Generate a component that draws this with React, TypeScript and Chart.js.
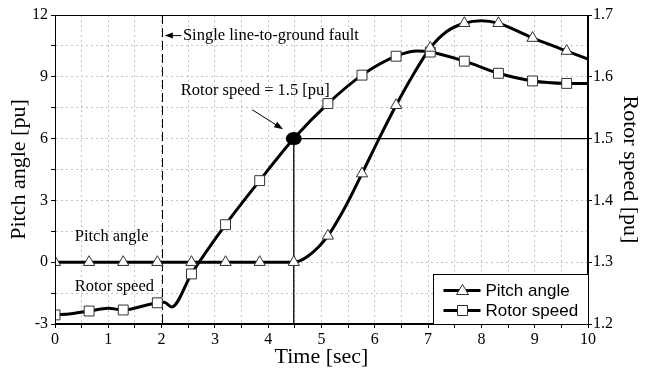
import React, { useEffect, useRef } from 'react';
import { Chart, registerables } from 'chart.js';

Chart.register(...registerables);

// ---- data ----
const pitchCurveTime = [0, 4.48, 4.75, 5.12, 5.45, 5.76, 6.08, 6.4, 6.72, 7.04, 7.35, 7.68, 8.0, 8.32, 8.65, 8.96, 9.3, 9.6, 10];
const pitchCurveAngle = [0, 0, 0.3, 1.28, 2.7, 4.3, 6.0, 7.62, 9.1, 10.4, 11.2, 11.6, 11.72, 11.6, 11.25, 10.88, 10.55, 10.25, 9.86];
const pitchMarkTime = [0, 0.64, 1.28, 1.92, 2.56, 3.2, 3.84, 4.48, 5.12, 5.76, 6.4, 7.04, 7.68, 8.32, 8.96, 9.6];
const pitchMarkAngle = [0, 0, 0, 0, 0, 0, 0, 0, 1.28, 4.3, 7.62, 10.4, 11.6, 11.6, 10.88, 10.25];

const speedCurveTime = [0, 0.3, 0.64, 1.0, 1.28, 1.6, 1.92, 2.05, 2.19, 2.56, 3.2, 3.84, 4.48, 5.12, 5.76, 6.4, 6.8, 7.04, 7.68, 8.32, 8.96, 9.6, 10];
const speedCurveValue = [1.2147, 1.2165, 1.221, 1.2255, 1.2227, 1.228, 1.2343, 1.235, 1.2277, 1.281, 1.3607, 1.432, 1.5, 1.5567, 1.6027, 1.6333, 1.6417, 1.64, 1.6253, 1.6057, 1.5933, 1.5893, 1.589];
const speedMarkTime = [0, 0.64, 1.28, 1.92, 2.56, 3.2, 3.84, 5.12, 5.76, 6.4, 7.04, 7.68, 8.32, 8.96, 9.6];
const speedMarkValue = [1.2147, 1.221, 1.2227, 1.2343, 1.281, 1.3607, 1.432, 1.5567, 1.6027, 1.6333, 1.64, 1.6253, 1.6057, 1.5933, 1.5893];

const seriesNames = ['Pitch angle', 'Rotor speed'];
const faultTime = 2;
const faultLabel = 'Single line-to-ground fault';
const markTime = 4.48;
const markSpeed = 1.5;
const markLabel = 'Rotor speed = 1.5 [pu]';

const xTitle = 'Time [sec]';
const yTitle = 'Pitch angle [pu]';
const y2Title = 'Rotor speed [pu]';

const SERIF = '"Liberation Serif", "Times New Roman", serif';
const SANS = '"Liberation Sans", Arial, sans-serif';

function toPts(xs: number[], ys: number[]) {
  return xs.map((t, i) => ({ x: t, y: ys[i] }));
}

function arrow(ctx: CanvasRenderingContext2D, x1: number, y1: number, x2: number, y2: number, head: number, half: number) {
  const ang = Math.atan2(y2 - y1, x2 - x1);
  ctx.beginPath();
  ctx.moveTo(x1, y1);
  ctx.lineTo(x2 - Math.cos(ang) * head * 0.8, y2 - Math.sin(ang) * head * 0.8);
  ctx.stroke();
  ctx.beginPath();
  ctx.moveTo(x2, y2);
  ctx.lineTo(x2 - Math.cos(ang) * head - Math.sin(ang) * half, y2 - Math.sin(ang) * head + Math.cos(ang) * half);
  ctx.lineTo(x2 - Math.cos(ang) * head + Math.sin(ang) * half, y2 - Math.sin(ang) * head - Math.cos(ang) * half);
  ctx.closePath();
  ctx.fill();
}

const annotations = {
  id: 'annotations',
  beforeDatasetsDraw(chart: any) {
    const { ctx, chartArea: a, scales } = chart;
    const x = scales.x, y2 = scales.y2;
    ctx.save();
    ctx.strokeStyle = '#000';
    ctx.lineWidth = 1;
    const fx = Math.round(x.getPixelForValue(faultTime)) + 0.5;
    ctx.setLineDash([9, 4]);
    ctx.beginPath();
    ctx.moveTo(fx, a.top);
    ctx.lineTo(fx, a.bottom);
    ctx.stroke();
    ctx.setLineDash([]);
    const mx = x.getPixelForValue(markTime);
    const my = y2.getPixelForValue(markSpeed);
    ctx.lineWidth = 1.3;
    ctx.beginPath();
    ctx.moveTo(mx, a.bottom);
    ctx.lineTo(mx, my);
    ctx.lineTo(a.right, my);
    ctx.stroke();
    ctx.restore();
  },
  afterDatasetsDraw(chart: any) {
    const { ctx, chartArea: a, scales } = chart;
    const x = scales.x, y = scales.y, y2 = scales.y2;
    ctx.save();
    // marked point
    const mx = x.getPixelForValue(markTime);
    const my = y2.getPixelForValue(markSpeed);
    ctx.fillStyle = '#000';
    ctx.beginPath();
    ctx.ellipse(mx, my, 8, 6.5, 0, 0, Math.PI * 2);
    ctx.fill();

    // texts
    ctx.font = '16.5px ' + SERIF;
    ctx.textAlign = 'left';
    ctx.textBaseline = 'middle';
    ctx.fillText(faultLabel, x.getPixelForValue(faultTime + 0.4), y.getPixelForValue(11));
    ctx.fillText(markLabel, x.getPixelForValue(2.36), y.getPixelForValue(8.35));
    ctx.fillText(seriesNames[0], x.getPixelForValue(0.37), y.getPixelForValue(1.22));
    ctx.fillText(seriesNames[1], x.getPixelForValue(0.37), y.getPixelForValue(-1.2));

    // arrows
    ctx.strokeStyle = '#000';
    ctx.lineWidth = 1;
    arrow(ctx, x.getPixelForValue(faultTime + 0.37), y.getPixelForValue(11), x.getPixelForValue(faultTime + 0.06), y.getPixelForValue(11), 8, 3);
    arrow(ctx, x.getPixelForValue(3.7), y.getPixelForValue(7.4), x.getPixelForValue(4.28), y.getPixelForValue(6.45), 9, 3.2);

    // frame
    ctx.lineWidth = 1;
    ctx.strokeStyle = '#000';
    ctx.strokeRect(Math.round(a.left) + 0.5, Math.round(a.top) + 0.5, Math.round(a.right - a.left) - 1, Math.round(a.bottom - a.top) - 1);

    // legend
    const bw = 155, bh = 50;
    const bx = Math.round(a.right - bw) + 0.5, by = Math.round(a.bottom - bh) + 0.5;
    ctx.fillStyle = '#fff';
    ctx.fillRect(bx, by, bw, bh);
    ctx.strokeRect(bx, by, bw, bh);
    const rows = [by + 16, by + 36];
    rows.forEach((ry, i) => {
      ctx.strokeStyle = '#000';
      ctx.lineWidth = 3;
      ctx.beginPath();
      ctx.moveTo(bx + 10, ry);
      ctx.lineTo(bx + 47, ry);
      ctx.stroke();
      const cx = bx + 29;
      ctx.fillStyle = '#fff';
      ctx.strokeStyle = '#333';
      ctx.lineWidth = 1;
      ctx.beginPath();
      if (i === 0) {
        ctx.moveTo(cx, ry - 6);
        ctx.lineTo(cx + 6, ry + 4);
        ctx.lineTo(cx - 6, ry + 4);
        ctx.closePath();
      } else {
        ctx.rect(cx - 5, ry - 5, 10, 10);
      }
      ctx.fill();
      ctx.stroke();
      ctx.fillStyle = '#000';
      ctx.font = '17px ' + SANS;
      ctx.textAlign = 'left';
      ctx.textBaseline = 'middle';
      ctx.fillText(seriesNames[i], bx + 52, ry + 1);
    });
    ctx.restore();
  },
};

export default function App() {
  const ref = useRef<HTMLCanvasElement | null>(null);
  useEffect(() => {
    document.body.style.margin = '0';
    document.body.style.overflow = 'hidden';
    const canvas = ref.current;
    if (!canvas) return;
    const tickFont = { family: SERIF, size: 16 };
    const titleFont = { family: SERIF, size: 22 };
    const gridColor = '#c4c4c4';
    const chart = new Chart(canvas, {
      type: 'line',
      data: {
        datasets: [
          {
            label: seriesNames[0] + ' markers',
            data: toPts(pitchMarkTime, pitchMarkAngle),
            yAxisID: 'y',
            showLine: false,
            pointStyle: 'triangle',
            pointRadius: 6.5,
            pointBackgroundColor: '#fff',
            pointBorderColor: '#333',
            pointBorderWidth: 1,
            order: 0,
          },
          {
            label: seriesNames[1] + ' markers',
            data: toPts(speedMarkTime, speedMarkValue),
            yAxisID: 'y2',
            showLine: false,
            pointStyle: 'rect',
            pointRadius: 7,
            pointBackgroundColor: '#fff',
            pointBorderColor: '#333',
            pointBorderWidth: 1,
            order: 0,
          },
          {
            label: seriesNames[0],
            data: toPts(pitchCurveTime, pitchCurveAngle),
            yAxisID: 'y',
            borderColor: '#000',
            borderWidth: 3,
            pointRadius: 0,
            cubicInterpolationMode: 'monotone',
            fill: false,
            order: 1,
          },
          {
            label: seriesNames[1],
            data: toPts(speedCurveTime, speedCurveValue),
            yAxisID: 'y2',
            borderColor: '#000',
            borderWidth: 3,
            pointRadius: 0,
            cubicInterpolationMode: 'monotone',
            fill: false,
            order: 1,
          },
        ],
      },
      options: {
        responsive: false,
        animation: false,
        devicePixelRatio: 1,
        layout: { padding: { top: 15, left: 0, right: 0, bottom: 0 } },
        plugins: { legend: { display: false }, tooltip: { enabled: false } },
        scales: {
          x: {
            type: 'linear',
            position: 'bottom',
            min: 0,
            max: 10,
            afterFit: (s: any) => { s.height = 48; },
            ticks: {
              stepSize: 0.5,
              autoSkip: false,
              maxRotation: 0,
              padding: 2,
              color: '#000',
              font: tickFont,
              callback: (v: any) => (Number.isInteger(Number(v)) ? String(v) : ''),
            },
            grid: { color: gridColor, tickColor: '#000', tickLength: 4, tickBorderDash: [] },
            border: { color: '#000', width: 1, dash: [2, 3] },
            title: { display: true, text: xTitle, color: '#000', font: titleFont, padding: { top: 0, bottom: 2 } },
          },
          y: {
            type: 'linear',
            position: 'left',
            min: -3,
            max: 12,
            afterFit: (s: any) => { s.width = 55; },
            ticks: {
              stepSize: 1.5,
              autoSkip: false,
              padding: 3,
              color: '#000',
              font: tickFont,
              callback: (v: any) => (Number(v) % 3 === 0 ? String(v) : ''),
            },
            grid: { color: gridColor, tickColor: '#000', tickLength: 4, tickBorderDash: [] },
            border: { color: '#000', width: 1, dash: [2, 3] },
            title: { display: true, text: yTitle, color: '#000', font: titleFont, padding: { top: 6, bottom: 0 } },
          },
          y2: {
            type: 'linear',
            position: 'right',
            min: 1.2,
            max: 1.7,
            afterFit: (s: any) => { s.width = 65; },
            ticks: {
              stepSize: 0.1,
              autoSkip: false,
              padding: 1,
              color: '#000',
              font: tickFont,
              callback: (v: any) => Number(v).toFixed(1),
            },
            grid: { drawOnChartArea: false, tickColor: '#000', tickLength: 4 },
            border: { color: '#000', width: 1 },
            title: { display: true, text: y2Title, color: '#000', font: titleFont, padding: { top: 10, bottom: 0 } },
          },
        },
      },
      plugins: [annotations],
    } as any);
    return () => chart.destroy();
  }, []);
  return (
    <div style={{ width: 653, height: 372 }}>
      <canvas ref={ref} width={653} height={372} style={{ display: 'block', width: 653, height: 372 }} />
    </div>
  );
}
